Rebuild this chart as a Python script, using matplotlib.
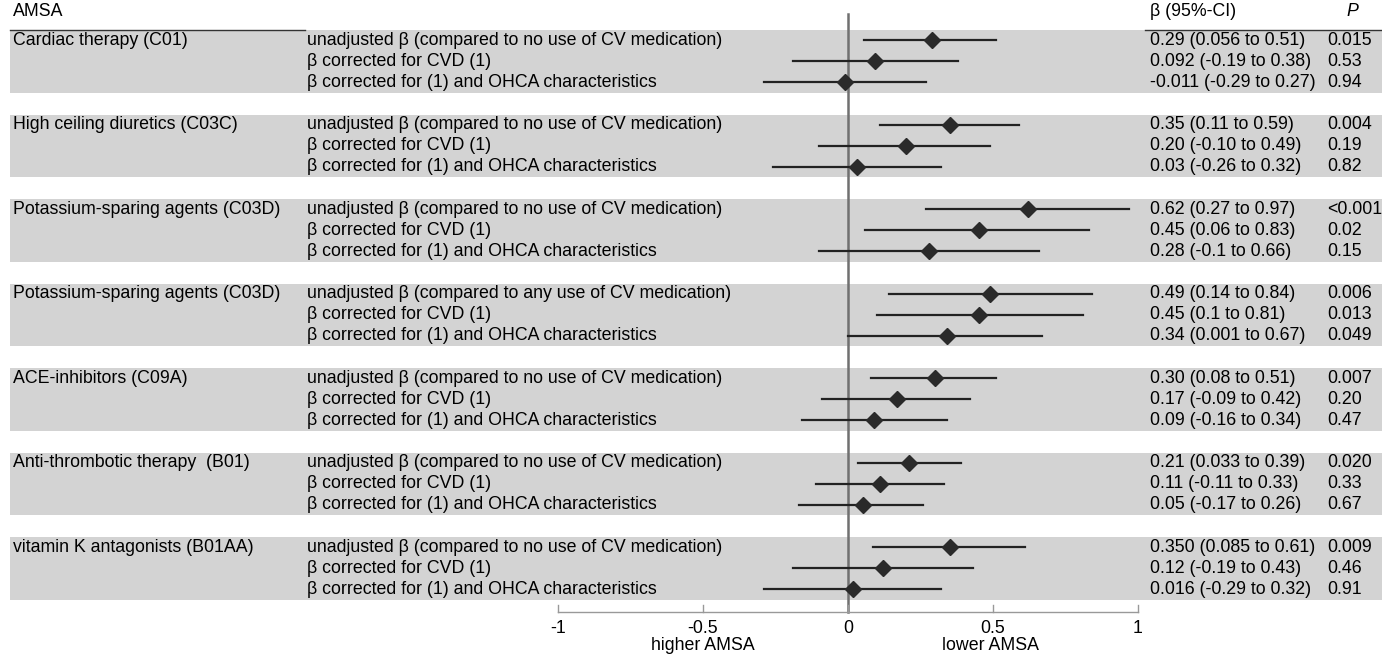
import matplotlib.pyplot as plt

plt.rcParams['font.family'] = ['Liberation Sans', 'DejaVu Sans']

# data
groups = ["Cardiac therapy (C01)", "High ceiling diuretics (C03C)",
          "Potassium-sparing agents (C03D)", "Potassium-sparing agents (C03D)",
          "ACE-inhibitors (C09A)", "Anti-thrombotic therapy  (B01)",
          "vitamin K antagonists (B01AA)"]
first_rows = ["unadjusted \u03b2 (compared to no use of CV medication)"] * 3 + \
             ["unadjusted \u03b2 (compared to any use of CV medication)"] + \
             ["unadjusted \u03b2 (compared to no use of CV medication)"] * 3
other_rows = ["\u03b2 corrected for CVD (1)",
              "\u03b2 corrected for (1) and OHCA characteristics"]

beta = [[0.29, 0.092, -0.011], [0.35, 0.20, 0.03], [0.62, 0.45, 0.28],
        [0.49, 0.45, 0.34], [0.30, 0.17, 0.09], [0.21, 0.11, 0.05],
        [0.350, 0.12, 0.016]]
lo = [[0.056, -0.19, -0.29], [0.11, -0.10, -0.26], [0.27, 0.06, -0.1],
      [0.14, 0.1, 0.001], [0.08, -0.09, -0.16], [0.033, -0.11, -0.17],
      [0.085, -0.19, -0.29]]
hi = [[0.51, 0.38, 0.27], [0.59, 0.49, 0.32], [0.97, 0.83, 0.66],
      [0.84, 0.81, 0.67], [0.51, 0.42, 0.34], [0.39, 0.33, 0.26],
      [0.61, 0.43, 0.32]]
ci_text = [["0.29 (0.056 to 0.51)", "0.092 (-0.19 to 0.38)", "-0.011 (-0.29 to 0.27)"],
           ["0.35 (0.11 to 0.59)", "0.20 (-0.10 to 0.49)", "0.03 (-0.26 to 0.32)"],
           ["0.62 (0.27 to 0.97)", "0.45 (0.06 to 0.83)", "0.28 (-0.1 to 0.66)"],
           ["0.49 (0.14 to 0.84)", "0.45 (0.1 to 0.81)", "0.34 (0.001 to 0.67)"],
           ["0.30 (0.08 to 0.51)", "0.17 (-0.09 to 0.42)", "0.09 (-0.16 to 0.34)"],
           ["0.21 (0.033 to 0.39)", "0.11 (-0.11 to 0.33)", "0.05 (-0.17 to 0.26)"],
           ["0.350 (0.085 to 0.61)", "0.12 (-0.19 to 0.43)", "0.016 (-0.29 to 0.32)"]]
p_text = [["0.015", "0.53", "0.94"], ["0.004", "0.19", "0.82"],
          ["<0.001", "0.02", "0.15"], ["0.006", "0.013", "0.049"],
          ["0.007", "0.20", "0.47"], ["0.020", "0.33", "0.67"],
          ["0.009", "0.46", "0.91"]]
xticks = [-1, -0.5, 0, 0.5, 1]
xticklabels = ["-1", "-0.5", "0", "0.5", "1"]

W, H = 1382, 655
fig = plt.figure(figsize=(W / 100, H / 100), dpi=100)
ax = fig.add_axes([0, 0, 1, 1])
ax.axis('off')
# 290 px per unit, zero at x=848 px; 21.125 px per row, first row at y=40 px
ax.set_xlim(-848 / 290, (W - 848) / 290)
ax.set_ylim((H - 40) / 21.125, -40 / 21.125)
tr = ax.get_yaxis_transform()  # x in axes fraction, y in data
fs = 12.8

def px(x):
    return x / W

# header
ax.text(px(13), -1.33, "AMSA", transform=tr, fontsize=fs, va='center')
ax.text(px(1150), -1.33, "\u03b2 (95%-CI)", transform=tr, fontsize=fs, va='center')
ax.text(px(1352), -1.33, "P", transform=tr, fontsize=fs, va='center',
        ha='center', style='italic')
ax.plot([px(10), px(305)], [-0.47, -0.47], transform=tr, color='#333333', lw=1)
ax.plot([px(1145), 1], [-0.47, -0.47], transform=tr, color='#333333', lw=1)

for g in range(len(groups)):
    base = g * 4
    ax.axhspan(base - 0.47, base + 2.5, xmin=px(10), xmax=1,
               color='#d3d3d3', lw=0, zorder=0)
    ax.text(px(13), base, groups[g], transform=tr, fontsize=fs, va='center')
    labels = [first_rows[g]] + other_rows
    for r in range(3):
        y = base + r
        ax.text(px(307), y, labels[r], transform=tr, fontsize=fs, va='center')
        ax.text(px(1150), y, ci_text[g][r], transform=tr, fontsize=fs, va='center')
        ax.text(px(1327), y, p_text[g][r], transform=tr, fontsize=fs, va='center')
        ax.plot([lo[g][r], hi[g][r]], [y, y], color='#222222', lw=1.6, zorder=3)
        ax.plot(beta[g][r], y, marker='D', color='#2a2a2a', markersize=8.5,
                zorder=4)

# zero line
ax.plot([0, 0], [-1.23, 27.08], color='#707070', lw=1.8, zorder=2)

# bottom axis
ax.plot([-1, 1], [27.08, 27.08], color='#999999', lw=1)
for t, lab in zip(xticks, xticklabels):
    ax.plot([t, t], [27.08, 26.75], color='#999999', lw=1)
    ax.text(t, 27.85, lab, ha='center', va='center', fontsize=fs)
ax.text(-0.5, 28.65, "higher AMSA", ha='center', va='center', fontsize=fs)
ax.text(0.49, 28.65, "lower AMSA", ha='center', va='center', fontsize=fs)

fig.savefig("out.png", dpi=100)
